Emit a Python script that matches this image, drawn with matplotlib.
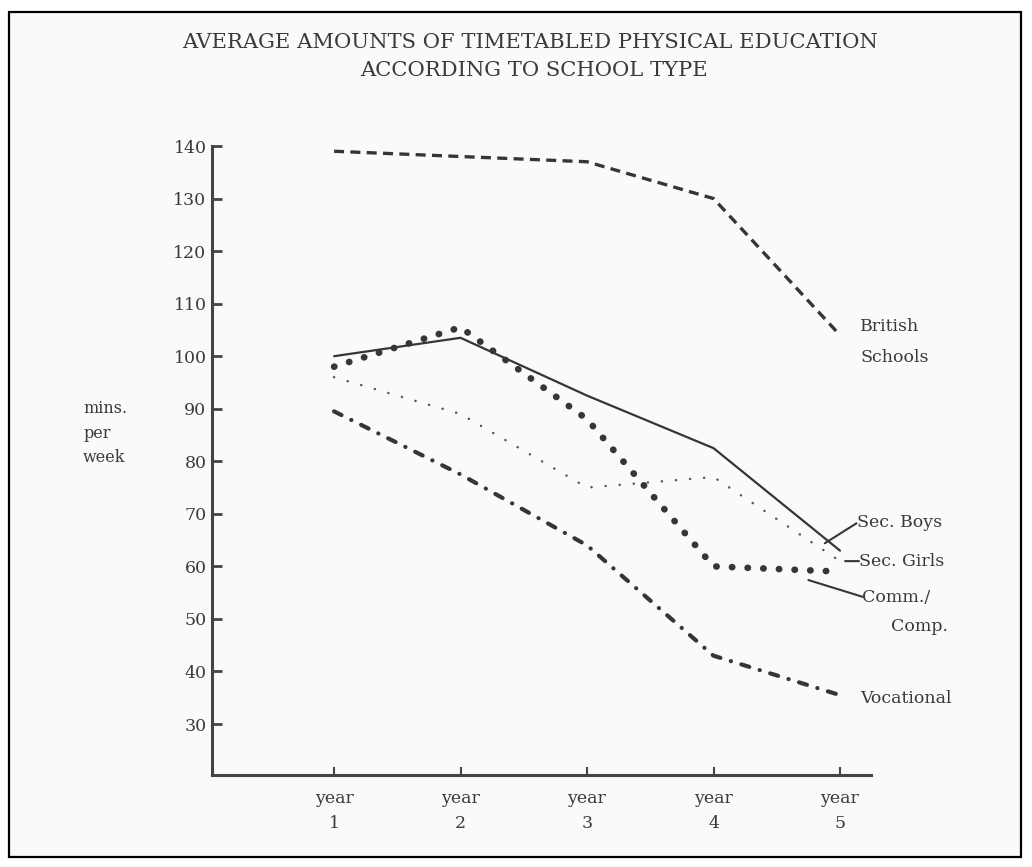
import matplotlib
matplotlib.use("Agg")
import matplotlib.pyplot as plt
from matplotlib.patches import Rectangle

# ---------------- data ----------------
years = [1, 2, 3, 4, 5]
year_labels = ["year\n1", "year\n2", "year\n3", "year\n4", "year\n5"]
british_schools = [139, 138, 137, 130, 104]
sec_boys = [100, 103.5, 92.5, 82.5, 63]
sec_girls = [96, 89, 75, 77, 61]
comm_comp = [98, 105.5, 88, 60, 59]
vocational = [89.5, 77.5, 64, 43, 35.5]
yticks = [30, 40, 50, 60, 70, 80, 90, 100, 110, 120, 130, 140]
title_lines = ["AVERAGE AMOUNTS OF TIMETABLED PHYSICAL EDUCATION",
               "ACCORDING TO SCHOOL TYPE"]

W, H = 1032, 867
INK = "#363636"
TXT = "#3a3a3a"
FONT = "DejaVu Serif"
plt.rcParams["font.family"] = [FONT]

fig = plt.figure(figsize=(W / 100, H / 100), dpi=100)
fig.patch.set_facecolor("white")

# page frame (behind everything)
frame = Rectangle((9 / W, 1 - 857 / H), (1021 - 9) / W, (857 - 12) / H,
                  transform=fig.transFigure, facecolor="#f8fafc",
                  edgecolor="black", linewidth=1.6, zorder=-10)
fig.patches.append(frame)

# title
fig.text(530 / W, 1 - 43 / H, title_lines[0], ha="center", va="center",
         fontsize=15.2, color=TXT)
fig.text(534 / W, 1 - 71 / H, title_lines[1], ha="center", va="center",
         fontsize=15.2, color=TXT)

ax = fig.add_axes([212 / W, 1 - 775 / H, (871 - 212) / W, (775 - 146) / H])
ax.set_zorder(5)
ax.set_facecolor("none")
ax.set_xlim(0.035, 5.245)
ax.set_ylim(20.3, 140)

for s in ["top", "right"]:
    ax.spines[s].set_visible(False)
for s in ["left", "bottom"]:
    ax.spines[s].set_linewidth(2.2)
    ax.spines[s].set_color("#444444")

ax.set_yticks(yticks)
ax.set_yticklabels([str(v) for v in yticks])
ax.set_xticks(years)
ax.set_xticklabels(year_labels, linespacing=1.6)
ax.tick_params(axis="y", direction="in", length=7, width=2, color="#444444",
               labelsize=12.5, labelcolor=TXT, pad=4)
ax.tick_params(axis="x", direction="in", length=6, width=1.5, color="#444444",
               labelsize=12.5, labelcolor=TXT, pad=11)

# series
ax.plot(years, british_schools, color=INK, lw=2.4, linestyle=(0, (3.0, 1.9)),
        dash_capstyle="butt", clip_on=False)
ax.plot(years, sec_boys, color=INK, lw=1.6, solid_capstyle="round", clip_on=False)
ax.plot(years, sec_girls, color="#555555", lw=1.8, linestyle=(0, (0.05, 5.6)),
        dash_capstyle="round", clip_on=False)
ax.plot(years, comm_comp, color=INK, lw=4.8, linestyle=(0, (0.05, 2.3)),
        dash_capstyle="round", clip_on=False)
ax.plot(years, vocational, color=INK, lw=3.0,
        linestyle=(0, (2.0, 2.6, 0.05, 2.6)), dash_capstyle="round", clip_on=False)

# labels
lab = dict(fontsize=12.5, color=TXT, va="center", ha="left", clip_on=False)
ax.text(5.16, 105.6, "British", **lab)
ax.text(5.16, 99.8, "Schools", **lab)
ax.annotate("", xy=(4.88, 64.4), xytext=(5.13, 68.2),
            arrowprops=dict(arrowstyle="-", color=INK, lw=1.5,
                            shrinkA=0, shrinkB=0))
ax.text(5.135, 68.4, "Sec. Boys", **lab)
ax.annotate("", xy=(5.04, 61.0), xytext=(5.15, 61.0),
            arrowprops=dict(arrowstyle="-", color=INK, lw=1.5,
                            shrinkA=0, shrinkB=0))
ax.text(5.15, 61.0, "Sec. Girls", **lab)
ax.annotate("", xy=(4.75, 57.4), xytext=(5.18, 54.2),
            arrowprops=dict(arrowstyle="-", color=INK, lw=1.5,
                            shrinkA=0, shrinkB=0))
ax.text(5.175, 54.0, "Comm./", **lab)
ax.text(5.40, 48.5, "Comp.", **lab)
ax.text(5.16, 34.8, "Vocational", **lab)

fig.text(83 / W, 1 - 433 / H, "mins.\nper\nweek", ha="left", va="center",
         fontsize=11.5, color=TXT, linespacing=1.55)

fig.savefig("out.png", dpi=100)
